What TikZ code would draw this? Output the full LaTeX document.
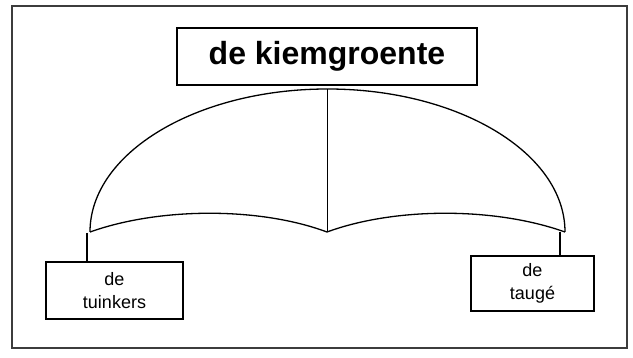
\documentclass[tikz,border=0pt]{standalone}
\usepackage{fontspec}
\setmainfont{Liberation Sans}
\usepackage{tikz}
\usetikzlibrary{positioning, calc}
\definecolor{FrameGray}{RGB}{60,60,60}
\tikzset{
  titlebox/.style={draw, line width=2.2pt, inner sep=0pt, minimum width=300pt, minimum height=57pt,
    font=\fontsize{32}{38}\selectfont\bfseries},
  wordbox/.style={draw, line width=2.2pt, inner sep=0pt, align=center,
    font=\fontsize{18}{23}\selectfont},
  archline/.style={line width=1.3pt},
  stub/.style={line width=2.2pt}
}

\begin{document}
\begin{tikzpicture}[x=1pt,y=-1pt]
  \useasboundingbox (0,0) rectangle (633,358);
  \draw[line width=1.2pt, FrameGray] (12,6) rectangle (627,348);
  \node[titlebox] (kiem) at (327,56.5) {de kiemgroente};
  \node[wordbox, minimum width=137pt, minimum height=57pt] (tuinkers) at (114.5,290.5) {de\\tuinkers};
  \node[wordbox, minimum width=123pt, minimum height=55pt] (tauge) at (532.5,283.5) {de\\taugé};
  \coordinate (archL) at (90,232);
  \coordinate (archM) at (327,232);
  \coordinate (archR) at (565,232);
  \coordinate (archTop) at (327,89);
  \draw[archline] (archL) arc[start angle=180, end angle=360, x radius=237.5, y radius=143];
  \draw[archline] (archL) .. controls (160,207) and (260,207) .. (archM)
                          .. controls (395,207) and (495,207) .. (archR);
  \draw[line width=1pt] (archTop) -- (archM);
  \coordinate (stubL) at (87,233);
  \coordinate (stubR) at (560,232);
  \draw[stub] (stubL) -- (stubL |- tuinkers.north);
  \draw[stub] (stubR) -- (stubR |- tauge.north);
\end{tikzpicture}
\end{document}
